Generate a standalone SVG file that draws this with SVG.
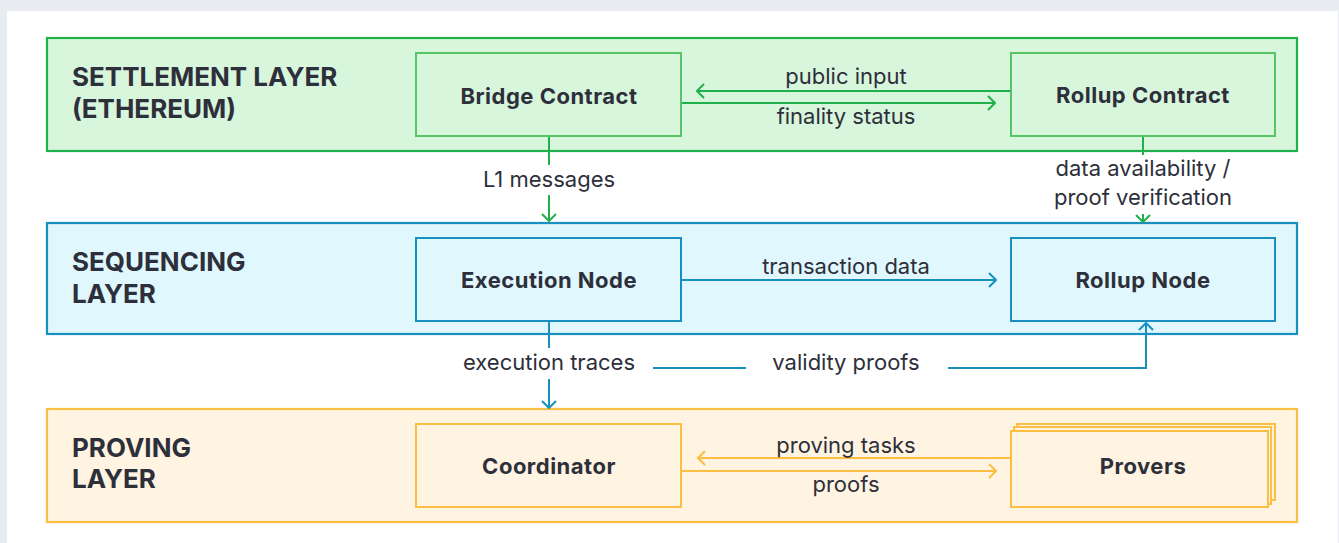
<svg xmlns="http://www.w3.org/2000/svg" width="1339" height="543" viewBox="0 0 1339 543">
<style>
.layer-title{font-family:Inter,"Liberation Sans",sans-serif;font-weight:700;font-size:26px;fill:#2d2f3a}
.node-title{font-family:Inter,"Liberation Sans",sans-serif;font-weight:700;font-size:22px;letter-spacing:0.5px;fill:#2d2f3a;text-anchor:middle}
.lbl{font-family:Inter,"Liberation Sans",sans-serif;font-size:22px;fill:#2d2f3a;text-anchor:middle}
.g-layer{fill:#d8f6dc;stroke:#20b14c;stroke-width:2.2}
.g-node{fill:#d8f6dc;stroke:#57c566;stroke-width:2}
.b-layer{fill:#dff7fd;stroke:#1890bf;stroke-width:2.2}
.b-node{fill:#dff7fd;stroke:#1890bf;stroke-width:2}
.o-layer{fill:#fff3e1;stroke:#fcbf44;stroke-width:2.2}
.o-node{fill:#fff3e1;stroke:#fcbf44;stroke-width:2}
.gc{stroke:#20b14c;stroke-width:2;fill:none}
.bc{stroke:#1890bf;stroke-width:2;fill:none}
.oc{stroke:#fcbf44;stroke-width:2;fill:none}
</style>
<defs>
<marker id="ag" markerUnits="userSpaceOnUse" viewBox="-9 -8 10 16" refX="0" refY="0" markerWidth="10" markerHeight="16" orient="auto"><path d="M-7,-7 L0,0 L-7,7" fill="none" stroke="#20b14c" stroke-width="2"/></marker>
<marker id="ab" markerUnits="userSpaceOnUse" viewBox="-9 -8 10 16" refX="0" refY="0" markerWidth="10" markerHeight="16" orient="auto"><path d="M-7,-7 L0,0 L-7,7" fill="none" stroke="#1890bf" stroke-width="2"/></marker>
<marker id="ao" markerUnits="userSpaceOnUse" viewBox="-9 -8 10 16" refX="0" refY="0" markerWidth="10" markerHeight="16" orient="auto"><path d="M-7,-7 L0,0 L-7,7" fill="none" stroke="#fcbf44" stroke-width="2"/></marker>
</defs>
<rect x="0" y="0" width="1339" height="543" fill="#e8ecf0"/>
<rect x="7" y="11" width="1331" height="532" fill="#ffffff"/>

<g id="settlement-layer">
<rect class="g-layer" x="47" y="38" width="1250" height="113"/>
<text class="layer-title" x="72" y="86">SETTLEMENT LAYER</text>
<text class="layer-title" x="72" y="118">(ETHEREUM)</text>
</g>
<g id="sequencing-layer">
<rect class="b-layer" x="47" y="223" width="1250" height="111"/>
<text class="layer-title" x="72" y="271">SEQUENCING</text>
<text class="layer-title" x="72" y="303">LAYER</text>
</g>
<g id="proving-layer">
<rect class="o-layer" x="47" y="409" width="1250" height="113"/>
<text class="layer-title" x="72" y="457">PROVING</text>
<text class="layer-title" x="72" y="488">LAYER</text>
</g>

<g id="connectors">
<line class="gc" x1="1011" y1="91" x2="697" y2="91" marker-end="url(#ag)"/>
<line class="gc" x1="681" y1="103" x2="995" y2="103" marker-end="url(#ag)"/>
<line class="gc" x1="549" y1="136" x2="549" y2="165"/>
<line class="gc" x1="549" y1="195" x2="549" y2="221" marker-end="url(#ag)"/>
<line class="gc" x1="1143" y1="136" x2="1143" y2="155"/>
<line class="gc" x1="1143" y1="214" x2="1143" y2="222" marker-end="url(#ag)"/>
<line class="bc" x1="681" y1="280" x2="996" y2="280" marker-end="url(#ab)"/>
<line class="bc" x1="549" y1="321" x2="549" y2="348"/>
<line class="bc" x1="549" y1="379" x2="549" y2="408" marker-end="url(#ab)"/>
<line class="bc" x1="653" y1="368" x2="746" y2="368"/>
<path class="bc" d="M948,368 H1146 V323" marker-end="url(#ab)"/>
<line class="oc" x1="1011" y1="458" x2="698" y2="458" marker-end="url(#ao)"/>
<line class="oc" x1="681" y1="471" x2="996" y2="471" marker-end="url(#ao)"/>
<text class="lbl" x="846" y="84">public input</text>
<text class="lbl" x="846" y="124">finality status</text>
<text class="lbl" x="549" y="187">L1 messages</text>
<text class="lbl" x="1143" y="176">data availability /</text>
<text class="lbl" x="1143" y="205">proof verification</text>
<text class="lbl" x="846" y="274">transaction data</text>
<text class="lbl" x="549" y="370">execution traces</text>
<text class="lbl" x="846" y="370">validity proofs</text>
<text class="lbl" x="846" y="453">proving tasks</text>
<text class="lbl" x="846" y="492">proofs</text>
</g>

<g id="bridge-contract">
<rect class="g-node" x="416" y="53" width="265" height="83"/>
<text class="node-title" x="549" y="104">Bridge Contract</text>
</g>
<g id="rollup-contract">
<rect class="g-node" x="1011" y="53" width="264" height="83"/>
<text class="node-title" x="1143" y="103">Rollup Contract</text>
</g>
<g id="execution-node">
<rect class="b-node" x="416" y="238" width="265" height="83"/>
<text class="node-title" x="549" y="288">Execution Node</text>
</g>
<g id="rollup-node">
<rect class="b-node" x="1011" y="238" width="264" height="83"/>
<text class="node-title" x="1143" y="288">Rollup Node</text>
</g>
<g id="coordinator">
<rect class="o-node" x="416" y="424" width="265" height="83"/>
<text class="node-title" x="549" y="474">Coordinator</text>
</g>
<g id="provers">
<rect class="o-node" x="1017" y="424" width="258" height="76"/>
<rect class="o-node" x="1014" y="427" width="257" height="77"/>
<rect class="o-node" x="1011" y="431" width="257" height="76"/>
<text class="node-title" x="1143" y="474">Provers</text>
</g>
</svg>
